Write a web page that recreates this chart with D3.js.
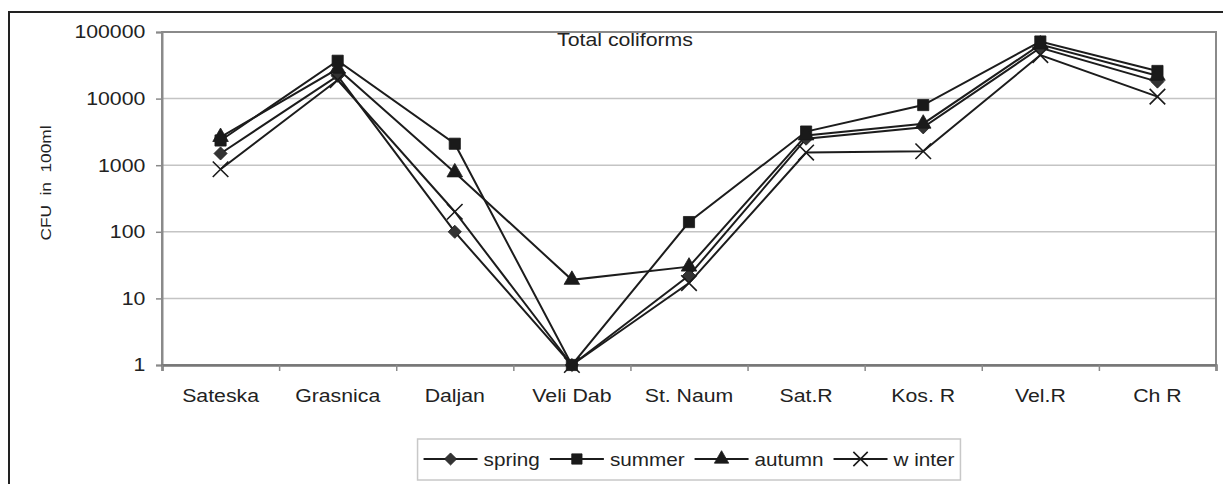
<!DOCTYPE html>
<html>
<head>
<meta charset="utf-8">
<script src="https://cdn.jsdelivr.net/npm/d3@7"></script>
<style>
  body { margin: 0; background: #fff; }
  svg text { font-family: "Liberation Sans", Arial, sans-serif; fill: #222; }
</style>
</head>
<body>
<div id="chart"></div>
<script>
// sampling sites and seasonal counts (CFU in 100ml)
const sites = ["Sateska", "Grasnica", "Daljan", "Veli Dab", "St. Naum", "Sat.R", "Kos. R", "Vel.R", "Ch R"];
const spring = [1500, 22000, 100, 1, 22, 2500, 3700, 58000, 18000];
const summer = [2350, 37000, 2100, 1, 140, 3200, 8000, 72000, 26000];
const autumn = [2650, 28000, 780, 19, 30, 2800, 4200, 65000, 22000];
const winter = [870, 19000, 200, 1, 17, 1550, 1620, 45000, 10700];
const yTicks = [1, 10, 100, 1000, 10000, 100000];
const seasonNames = ["spring", "summer", "autumn", "w inter"];

const width = 1223, height = 484;
const plot = { left: 162, right: 1216, top: 32, bottom: 365 };
const stretch = 1.15; // source figure is a bit wide-set

const series = [
  { name: seasonNames[0], values: spring, shape: d3.symbolDiamond2, size: 110, fill: "#333" },
  { name: seasonNames[1], values: summer, shape: d3.symbolSquare, size: 125, fill: "#1a1a1a" },
  { name: seasonNames[2], values: autumn, shape: d3.symbolTriangle, size: 105, fill: "#1a1a1a" },
  { name: seasonNames[3], values: winter, shape: d3.symbolTimes, size: 160, fill: "none" }
];

const svg = d3.select("#chart").append("svg")
  .attr("width", width)
  .attr("height", height);

// outer frame (runs off the right and bottom of the crop)
svg.append("rect")
  .attr("x", 9).attr("y", 12)
  .attr("width", 1240).attr("height", 520)
  .attr("fill", "none").attr("stroke", "#222").attr("stroke-width", 2);

const x = d3.scaleBand().domain(sites).range([plot.left, plot.right]);
const xEdge = d3.scaleLinear().domain([0, sites.length]).range([plot.left, plot.right]);
const y = d3.scaleLog().domain([1, 100000]).range([plot.bottom, plot.top]);

// gridlines
svg.append("g")
  .selectAll("line")
  .data(yTicks.slice(1, -1))
  .enter().append("line")
  .attr("x1", plot.left).attr("x2", plot.right)
  .attr("y1", d => y(d)).attr("y2", d => y(d))
  .attr("stroke", "#c4c4c4").attr("stroke-width", 1.5);

// plot frame
svg.append("rect")
  .attr("x", plot.left).attr("y", plot.top)
  .attr("width", plot.right - plot.left).attr("height", plot.bottom - plot.top)
  .attr("fill", "none").attr("stroke", "#8a8a8a").attr("stroke-width", 2);

// y axis
const yAxis = svg.append("g")
  .attr("transform", `translate(${plot.left},0)`)
  .call(d3.axisLeft(y).tickValues(yTicks).tickFormat(d3.format("d")).tickSize(6).tickPadding(8.5));
yAxis.select(".domain").attr("stroke", "#8a8a8a").attr("stroke-width", 2);
yAxis.selectAll(".tick line").attr("stroke", "#8a8a8a").attr("stroke-width", 1.5);
yAxis.selectAll("text")
  .attr("font-size", 18.5)
  .attr("transform", `scale(${stretch},1)`);

// x axis: labels at band centres, ticks at band edges
const xAxis = svg.append("g")
  .attr("transform", `translate(0,${plot.bottom})`)
  .call(d3.axisBottom(x).tickSize(0).tickPadding(23.5));
xAxis.select(".domain").remove();
xAxis.selectAll("text")
  .attr("font-size", 18.5)
  .attr("transform", `scale(${stretch},1)`);

const xTicks = svg.append("g")
  .attr("transform", `translate(0,${plot.bottom})`)
  .call(d3.axisBottom(xEdge).tickValues(d3.range(sites.length + 1)).tickFormat("").tickSize(6));
xTicks.select(".domain").attr("stroke", "#777").attr("stroke-width", 2.5);
xTicks.selectAll(".tick line").attr("stroke", "#8a8a8a").attr("stroke-width", 1.5);

// axis title
svg.append("text")
  .attr("transform", `translate(51,183) rotate(-90) scale(${stretch},1)`)
  .attr("text-anchor", "middle")
  .attr("font-size", 15)
  .style("white-space", "pre")
  .text("CFU  in  100ml");

// chart title
svg.append("text")
  .attr("x", 625 / stretch).attr("y", 46)
  .attr("transform", `scale(${stretch},1)`)
  .attr("text-anchor", "middle")
  .attr("font-size", 18.5)
  .text("Total coliforms");

// lines
const line = d3.line()
  .x((d, i) => x(sites[i]) + x.bandwidth() / 2)
  .y(d => y(d));

series.forEach(s => {
  svg.append("path")
    .datum(s.values)
    .attr("d", line)
    .attr("fill", "none")
    .attr("stroke", "#1c1c1c")
    .attr("stroke-width", 2);
});

// markers
series.forEach(s => {
  svg.append("g")
    .selectAll("path")
    .data(s.values)
    .enter().append("path")
    .attr("transform", (d, i) => `translate(${x(sites[i]) + x.bandwidth() / 2},${y(d)})`)
    .attr("d", d3.symbol().type(s.shape).size(s.size))
    .attr("fill", s.fill)
    .attr("stroke", "#1a1a1a")
    .attr("stroke-width", s.fill === "none" ? 1.6 : 0.8);
});

// legend
const legend = svg.append("g");
const legendBox = legend.append("rect")
  .attr("y", 439).attr("height", 41)
  .attr("fill", "#fff").attr("stroke", "#c8c8c8").attr("stroke-width", 1.5);

const gap = 10;
let cursor = 0;
const items = [];
series.forEach(s => {
  const g = legend.append("g");
  g.append("line").attr("x1", 0).attr("x2", 54)
    .attr("stroke", "#1c1c1c").attr("stroke-width", 2);
  g.append("path")
    .attr("transform", "translate(27,0)")
    .attr("d", d3.symbol().type(s.shape).size(s.size * 0.85))
    .attr("fill", s.fill)
    .attr("stroke", "#1a1a1a")
    .attr("stroke-width", s.fill === "none" ? 1.6 : 0.8);
  const t = g.append("text")
    .attr("x", 60 / stretch).attr("y", 6.5)
    .attr("transform", `scale(${stretch},1)`)
    .attr("font-size", 18)
    .text(s.name);
  items.push({ g, at: cursor });
  cursor += 60 + t.node().getComputedTextLength() * stretch + gap;
});
const legendWidth = cursor - gap + 12;
const legendLeft = (plot.left + plot.right) / 2 - legendWidth / 2;
legendBox.attr("x", legendLeft).attr("width", legendWidth);
items.forEach(d => d.g.attr("transform", `translate(${legendLeft + 6 + d.at},459)`));
</script>
</body>
</html>
